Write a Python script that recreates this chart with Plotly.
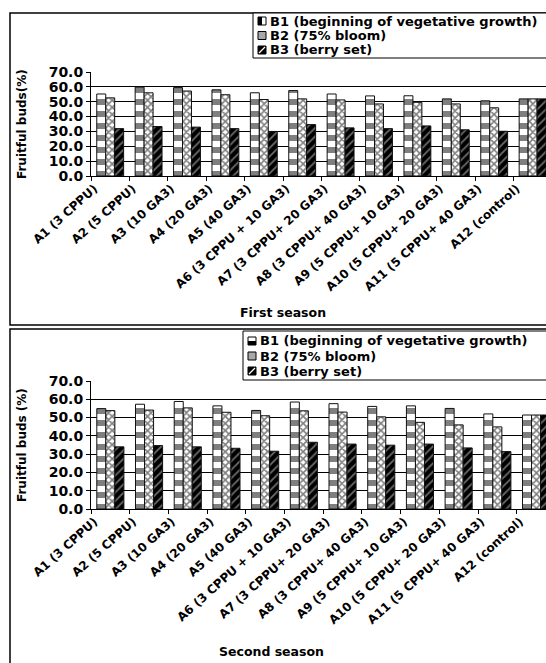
import plotly.graph_objects as go

W, H = 546, 663

treatments = [
    "A1 (3 CPPU)", "A2 (5 CPPU)", "A3 (10 GA3)", "A4 (20 GA3)", "A5 (40 GA3)",
    "A6 (3 CPPU + 10 GA3)", "A7 (3 CPPU+ 20 GA3)", "A8 (3 CPPU+ 40 GA3)",
    "A9 (5 CPPU+ 10 GA3)", "A10 (5 CPPU+ 20 GA3)", "A11 (5 CPPU+ 40 GA3)",
    "A12 (control)",
]
stages = ["B1 (beginning of vegetative growth)", "B2 (75% bloom)", "B3 (berry set)"]

# Fruitful buds (%) - first season
first_b1 = [55.2, 59.8, 59.5, 58.0, 56.0, 57.5, 55.2, 53.9, 54.0, 51.9, 50.6, 51.9]
first_b2 = [52.6, 56.0, 57.2, 54.7, 51.5, 51.9, 51.2, 48.5, 49.6, 48.5, 45.9, 51.9]
first_b3 = [31.9, 33.3, 32.9, 31.9, 30.0, 34.6, 32.4, 31.9, 33.7, 31.1, 30.1, 51.9]

# Fruitful buds (%) - second season
second_b1 = [54.9, 57.3, 58.8, 56.4, 53.9, 58.5, 57.6, 56.1, 56.4, 55.0, 52.0, 51.4]
second_b2 = [53.8, 54.1, 55.3, 52.9, 51.0, 53.7, 53.0, 50.4, 47.4, 46.0, 44.9, 51.4]
second_b3 = [34.0, 34.7, 34.0, 33.2, 31.6, 36.5, 35.5, 34.9, 35.5, 33.4, 31.4, 51.4]

y_ticks = [0, 10, 20, 30, 40, 50, 60, 70]

FONT = "DejaVu Sans"


def px(x):
    return x / W


def py(y):
    return 1 - y / H


patterns = [
    dict(shape="-", fgcolor="black", bgcolor="white", size=12, solidity=0.5),
    dict(shape="x", fgcolor="black", bgcolor="white", size=5, solidity=0.55),
    dict(shape="/", fgcolor="#d8d8d8", bgcolor="black", size=6, solidity=0.3),
]

fig = go.Figure()

for xa, ya, series in (
    ("x", "y", (first_b1, first_b2, first_b3)),
    ("x2", "y2", (second_b1, second_b2, second_b3)),
):
    for name, vals, pat in zip(stages, series, patterns):
        fig.add_trace(go.Bar(
            x=treatments, y=vals, name=name, xaxis=xa, yaxis=ya,
            marker=dict(color="black" if pat["shape"] == "/" else "white",
                        pattern=pat, line=dict(color="#111111", width=1)),
            showlegend=False,
        ))

tickfont = dict(family=FONT, size=12, color="black", weight="bold")

xaxis_common = dict(
    type="category", showgrid=False, showline=True, linecolor="black", linewidth=1,
    ticks="outside", tickson="boundaries", ticklen=4, tickcolor="black",
    tickangle=-42, tickfont=tickfont, ticklabelshift=-16, fixedrange=True,
)
yaxis_common = dict(
    range=[0, 70], tickvals=y_ticks, tickformat=".1f", showgrid=True,
    gridcolor="black", gridwidth=1, showline=True, linecolor="black", linewidth=1,
    ticks="outside", ticklen=4, tickcolor="black", zeroline=False,
    tickfont=dict(family=FONT, size=14, color="black", weight="bold"),
)

fig.update_layout(
    width=W, height=H,
    margin=dict(l=0, r=0, t=0, b=0, autoexpand=False),
    paper_bgcolor="white", plot_bgcolor="white",
    barmode="group", bargap=0.3, bargroupgap=0,
    xaxis=dict(domain=[px(91), 1], anchor="y", range=[-0.5, -0.5 + (W - 91) / 38.4],
               **xaxis_common),
    yaxis=dict(domain=[py(176), py(72)], anchor="x", **yaxis_common),
    xaxis2=dict(domain=[px(91), 1], anchor="y2", range=[-0.5, -0.5 + (W - 91) / 38.7],
                **xaxis_common),
    yaxis2=dict(domain=[py(509), py(381)], anchor="x2", **yaxis_common),
)

shapes = []
annotations = []

# panel frames
for top, bottom in ((13, 325), (329, 700)):
    shapes.append(dict(type="rect", xref="paper", yref="paper",
                       x0=px(10), x1=px(620), y0=py(bottom), y1=py(top),
                       line=dict(color="black", width=1.5)))


def legend_box(left, top, bottom, rows, sym_x, text_x, split):
    shapes.append(dict(type="rect", xref="paper", yref="paper",
                       x0=px(left), x1=px(620), y0=py(bottom), y1=py(top),
                       line=dict(color="black", width=1), fillcolor="white"))
    s = 8
    for i, (label, yc) in enumerate(zip(stages, rows)):
        x0, x1 = sym_x, sym_x + s
        y0, y1 = yc - s / 2, yc + s / 2
        if i == 0:
            shapes.append(dict(type="rect", xref="paper", yref="paper",
                               x0=px(x0), x1=px(x1), y0=py(y1), y1=py(y0),
                               line=dict(color="black", width=1), fillcolor="white"))
            if split == "v":
                shapes.append(dict(type="rect", xref="paper", yref="paper",
                                   x0=px(x0), x1=px(x0 + s / 2), y0=py(y1), y1=py(y0),
                                   line=dict(width=0), fillcolor="black"))
            else:
                shapes.append(dict(type="rect", xref="paper", yref="paper",
                                   x0=px(x0), x1=px(x1), y0=py(y1), y1=py(yc),
                                   line=dict(width=0), fillcolor="black"))
        elif i == 1:
            shapes.append(dict(type="rect", xref="paper", yref="paper",
                               x0=px(x0), x1=px(x1), y0=py(y1), y1=py(y0),
                               line=dict(color="black", width=1), fillcolor="#a8a8a8"))
        else:
            shapes.append(dict(type="rect", xref="paper", yref="paper",
                               x0=px(x0), x1=px(x1), y0=py(y1), y1=py(y0),
                               line=dict(color="black", width=1), fillcolor="black"))
            shapes.append(dict(type="line", xref="paper", yref="paper",
                               x0=px(x0 + 1), x1=px(x1 - 1), y0=py(y1 - 1), y1=py(y0 + 1),
                               line=dict(color="white", width=1.2)))
        annotations.append(dict(xref="paper", yref="paper", x=px(text_x), y=py(yc),
                                xanchor="left", yanchor="middle", showarrow=False,
                                text=label,
                                font=dict(family=FONT, size=13, color="black",
                                          weight="bold")))


legend_box(253, 13, 58, [21, 35.5, 50], 258, 268, "v")
legend_box(243, 331, 380, [341, 356, 371], 248, 258, "h")

for title, yc in (("Fruitful buds(%)", 124), ("Fruitful buds (%)", 445)):
    annotations.append(dict(xref="paper", yref="paper", x=px(22), y=py(yc),
                            xanchor="center", yanchor="middle", showarrow=False,
                            textangle=-90, text=title,
                            font=dict(family=FONT, size=12, color="black", weight="bold")))

for title, xc, yc in (("First season", 283, 312), ("Second season", 271, 651)):
    annotations.append(dict(xref="paper", yref="paper", x=px(xc), y=py(yc),
                            xanchor="center", yanchor="middle", showarrow=False,
                            text=title,
                            font=dict(family=FONT, size=12.5, color="black", weight="bold")))

fig.update_layout(shapes=shapes, annotations=annotations)

fig.write_html("out.html")
